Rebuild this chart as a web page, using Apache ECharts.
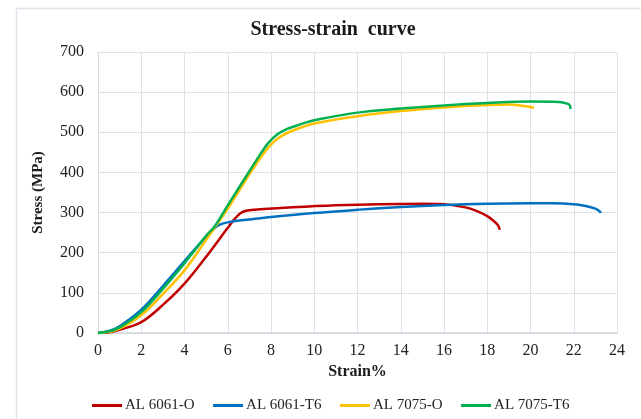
<!DOCTYPE html>
<html>
<head>
<meta charset="utf-8">
<script src="https://cdn.jsdelivr.net/npm/echarts@6/dist/echarts.min.js"></script>
<style>
html,body{margin:0;padding:0;background:#fff;}
#c{width:641px;height:419px;}
</style>
</head>
<body>
<div id="c"></div>
<script>
var seriesNames = ['AL 6061-O', 'AL 6061-T6', 'AL 7075-O', 'AL 7075-T6'];
var seriesColors = ['#C00000', '#0070C0', '#FFC000', '#00B050'];

var strain6061O = [0, 0.5, 1, 2, 3, 4, 5, 6, 6.3, 6.6, 6.9, 7.5, 9, 11, 13, 15, 16, 17, 17.5, 18, 18.3, 18.5, 18.58];
var stress6061O = [0, 2, 8, 27, 70, 123, 190, 262, 283, 299, 305, 308, 313, 318, 321, 322, 321, 313, 304, 291, 279, 268, 257];

var strain6061T6 = [0, 0.5, 1, 2, 3, 4, 5, 5.5, 5.8, 6.2, 7, 8, 10, 12, 14, 16, 18, 20, 21, 22, 22.5, 23, 23.2, 23.25];
var stress6061T6 = [0, 5, 17, 58, 117, 179, 240, 266, 273, 278, 283, 289, 299, 307, 314, 319, 322, 323, 323, 321, 317, 310, 303, 299];

var strain7075O = [0, 0.5, 1, 2, 3, 4, 5, 6, 7, 7.6, 8.1, 8.5, 8.9, 9.4, 10, 12, 14, 16, 18, 19, 19.6, 20.16];
var stress7075O = [0, 3, 11, 44, 97, 156, 232, 310, 395, 443, 475, 491, 502, 512, 522, 540, 553, 562, 568, 569, 566, 561];

var strain7075T6 = [0, 0.5, 1, 2, 3, 4, 5, 5.4, 6, 7, 7.5, 7.9, 8.3, 8.7, 9.1, 9.6, 10, 12, 14, 16, 18, 20, 21, 21.5, 21.8, 21.85];
var stress7075T6 = [0, 4, 14, 52, 110, 174, 242, 266, 318, 403, 445, 475, 495, 507, 515, 524, 530, 549, 559, 567, 573, 577, 576, 574, 569, 558];

var xTicks = {min: 0, max: 24, interval: 2};
var yTicks = {min: 0, max: 700, interval: 100};

function pairs(xs, ys) { return xs.map(function (x, i) { return [x, ys[i]]; }); }
var allData = [
  pairs(strain6061O, stress6061O),
  pairs(strain6061T6, stress6061T6),
  pairs(strain7075O, stress7075O),
  pairs(strain7075T6, stress7075T6)
];

var serif = '"Liberation Serif", "Times New Roman", serif';
var chart = echarts.init(document.getElementById('c'), null, {renderer: 'canvas'});
chart.setOption({
  animation: false,
  backgroundColor: '#ffffff',
  graphic: [{
    type: 'rect', left: 14, top: 6, z: -1,
    shape: {width: 700, height: 500},
    style: {fill: 'none', stroke: '#dfe4ec', lineWidth: 1.5}
  }],
  title: {
    text: 'Stress-strain  curve',
    left: 328, top: 15, textAlign: 'center',
    textStyle: {fontFamily: serif, fontWeight: 'bold', fontSize: 20, color: '#1a1a1a'}
  },
  grid: {left: 98, right: 24, top: 52, bottom: 86},
  xAxis: {
    type: 'value', min: xTicks.min, max: xTicks.max, interval: xTicks.interval,
    name: 'Strain%', nameLocation: 'middle', nameGap: 30,
    nameTextStyle: {fontFamily: serif, fontWeight: 'bold', fontSize: 16, color: '#1a1a1a'},
    axisLine: {show: true, lineStyle: {color: '#cfd5de', width: 1.5}},
    axisTick: {show: false},
    axisLabel: {fontFamily: serif, fontSize: 16, color: '#222', margin: 10},
    splitLine: {show: true, lineStyle: {color: '#dde2ea', width: 1}}
  },
  yAxis: {
    type: 'value', min: yTicks.min, max: yTicks.max, interval: yTicks.interval,
    name: 'Stress (MPa)', nameLocation: 'middle', nameGap: 52, nameRotate: 90,
    nameTextStyle: {fontFamily: serif, fontWeight: 'bold', fontSize: 15, color: '#1a1a1a'},
    axisLine: {show: true, lineStyle: {color: '#d5dae3', width: 1}},
    axisTick: {show: false},
    axisLabel: {fontFamily: serif, fontSize: 16, color: '#222', margin: 14},
    splitLine: {show: true, lineStyle: {color: '#dde2ea', width: 1}}
  },
  legend: {
    left: 87, top: 393,
    itemWidth: 30, itemHeight: 3, itemGap: 18.5,
    icon: 'rect',
    textStyle: {fontFamily: serif, fontSize: 15, color: '#222', padding: [0, 0, 0, -2]},
    data: seriesNames
  },
  series: seriesNames.map(function (n, i) {
    return {
      name: n, type: 'line', data: allData[i], smooth: 0.35,
      showSymbol: false, symbol: 'none',
      lineStyle: {color: seriesColors[i], width: 2.5},
      itemStyle: {color: seriesColors[i]}
    };
  })
});
</script>
</body>
</html>
